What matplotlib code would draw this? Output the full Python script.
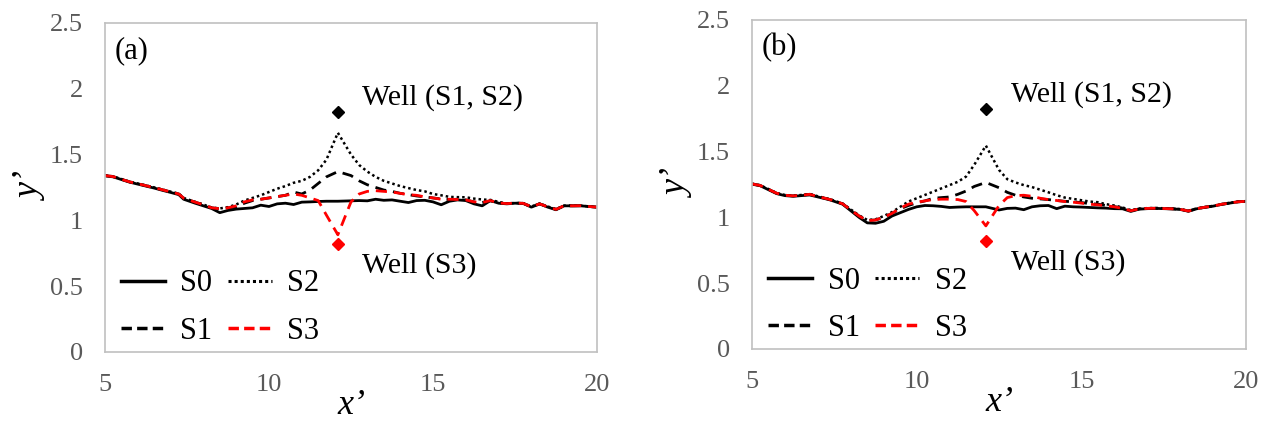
import matplotlib
matplotlib.use("Agg")
import matplotlib.pyplot as plt
from matplotlib.lines import Line2D

plt.rcParams["font.family"] = ["Liberation Serif", "DejaVu Serif"]

# shared sampling positions along x'
x_pts = [5.0, 5.25, 5.5, 5.75, 6.0, 6.25, 6.5, 6.75, 7.0, 7.25,
         7.4, 7.75, 8.0, 8.25, 8.5, 8.75, 9.0, 9.25, 9.5, 9.75,
         10.0, 10.25, 10.5, 10.75, 11.0, 11.25, 11.5, 11.75, 12.1, 12.5,
         12.75, 13.0, 13.25, 13.5, 13.75, 14.0, 14.25, 14.5, 14.75, 15.0,
         15.25, 15.5, 15.75, 16.0, 16.25, 16.5, 16.75, 17.0, 17.25, 17.5,
         17.75, 18.0, 18.25, 18.5, 18.75, 19.0, 19.25, 19.5, 19.75, 20.0]

# panel (a)
a_s0 = [1.338, 1.33, 1.31, 1.29, 1.275, 1.26, 1.245, 1.228, 1.212, 1.195,
        1.16, 1.13, 1.11, 1.09, 1.058, 1.075, 1.085, 1.09, 1.095, 1.115,
        1.105, 1.125, 1.13, 1.12, 1.138, 1.14, 1.143, 1.145, 1.145, 1.148,
        1.15, 1.148, 1.16, 1.152, 1.155, 1.145, 1.135, 1.15, 1.152, 1.14,
        1.118, 1.145, 1.155, 1.15, 1.125, 1.11, 1.15, 1.13, 1.125, 1.13,
        1.128, 1.10, 1.125, 1.10, 1.08, 1.11, 1.11, 1.11, 1.105, 1.10]
a_s1 = [1.34, 1.332, 1.312, 1.292, 1.278, 1.263, 1.248, 1.232, 1.216, 1.2,
        1.168, 1.138, 1.118, 1.095, 1.088, 1.095, 1.10, 1.13, 1.15, 1.16,
        1.17, 1.18, 1.19, 1.215, 1.20, 1.23, 1.28, 1.33, 1.37, 1.34,
        1.30, 1.27, 1.25, 1.23, 1.22, 1.205, 1.195, 1.185, 1.178, 1.17,
        1.162, 1.158, 1.16, 1.155, 1.14, 1.135, 1.148, 1.132, 1.127, 1.131,
        1.129, 1.103, 1.125, 1.102, 1.083, 1.111, 1.11, 1.111, 1.105, 1.10]
a_s2 = [1.342, 1.334, 1.314, 1.294, 1.28, 1.265, 1.25, 1.234, 1.218, 1.202,
        1.17, 1.14, 1.12, 1.097, 1.09, 1.10, 1.12, 1.15, 1.17, 1.19,
        1.215, 1.24, 1.26, 1.285, 1.30, 1.33, 1.38, 1.46, 1.665, 1.50,
        1.42, 1.37, 1.33, 1.30, 1.28, 1.26, 1.245, 1.23, 1.22, 1.20,
        1.19, 1.178, 1.176, 1.175, 1.165, 1.158, 1.155, 1.14, 1.128, 1.132,
        1.13, 1.105, 1.127, 1.105, 1.085, 1.112, 1.11, 1.112, 1.105, 1.10]
a_s3 = [1.34, 1.332, 1.312, 1.292, 1.278, 1.263, 1.248, 1.232, 1.216, 1.2,
        1.168, 1.138, 1.118, 1.095, 1.088, 1.095, 1.11, 1.14, 1.155, 1.16,
        1.17, 1.18, 1.19, 1.20, 1.19, 1.17, 1.15, 1.04, 0.89, 1.14,
        1.20, 1.22, 1.225, 1.22, 1.215, 1.205, 1.195, 1.19, 1.178, 1.17,
        1.16, 1.16, 1.158, 1.155, 1.14, 1.135, 1.15, 1.132, 1.127, 1.131,
        1.129, 1.103, 1.125, 1.102, 1.083, 1.111, 1.11, 1.111, 1.105, 1.10]

# panel (b)
b_s0 = [1.252, 1.24, 1.21, 1.18, 1.165, 1.16, 1.165, 1.17, 1.155, 1.14,
        1.13, 1.10, 1.05, 1.00, 0.958, 0.955, 0.97, 1.01, 1.035, 1.06,
        1.08, 1.09, 1.088, 1.083, 1.075, 1.078, 1.08, 1.08, 1.08, 1.056,
        1.068, 1.07, 1.058, 1.08, 1.088, 1.09, 1.066, 1.085, 1.08, 1.078,
        1.075, 1.072, 1.07, 1.066, 1.065, 1.045, 1.062, 1.066, 1.068, 1.066,
        1.064, 1.06, 1.046, 1.065, 1.076, 1.085, 1.098, 1.108, 1.118, 1.122]
b_s1 = [1.254, 1.242, 1.213, 1.183, 1.168, 1.163, 1.168, 1.175, 1.158, 1.143,
        1.133, 1.103, 1.056, 1.01, 0.975, 0.98, 1.0, 1.03, 1.065, 1.09,
        1.11, 1.125, 1.145, 1.15, 1.155, 1.175, 1.20, 1.235, 1.265, 1.225,
        1.19, 1.168, 1.155, 1.145, 1.14, 1.135, 1.128, 1.122, 1.118, 1.112,
        1.105, 1.10, 1.09, 1.082, 1.07, 1.05, 1.064, 1.068, 1.069, 1.067,
        1.065, 1.061, 1.048, 1.066, 1.077, 1.086, 1.099, 1.109, 1.118, 1.122]
b_s2 = [1.256, 1.244, 1.215, 1.185, 1.17, 1.165, 1.17, 1.178, 1.16, 1.145,
        1.135, 1.105, 1.06, 1.015, 0.98, 0.985, 1.01, 1.04, 1.08, 1.12,
        1.145, 1.17, 1.195, 1.22, 1.245, 1.27, 1.31, 1.40, 1.545, 1.36,
        1.29, 1.265, 1.245, 1.23, 1.21, 1.19, 1.168, 1.15, 1.14, 1.13,
        1.12, 1.115, 1.10, 1.09, 1.075, 1.055, 1.066, 1.07, 1.071, 1.069,
        1.067, 1.063, 1.05, 1.068, 1.078, 1.087, 1.1, 1.11, 1.119, 1.123]
b_s3 = [1.254, 1.242, 1.213, 1.183, 1.168, 1.163, 1.168, 1.175, 1.158, 1.143,
        1.133, 1.103, 1.056, 1.01, 0.975, 0.98, 1.0, 1.03, 1.07, 1.10,
        1.115, 1.125, 1.135, 1.138, 1.138, 1.135, 1.12, 1.05, 0.935, 1.09,
        1.15, 1.165, 1.168, 1.16, 1.145, 1.135, 1.128, 1.12, 1.115, 1.108,
        1.10, 1.095, 1.088, 1.08, 1.068, 1.05, 1.064, 1.068, 1.069, 1.067,
        1.065, 1.061, 1.048, 1.066, 1.077, 1.086, 1.099, 1.109, 1.118, 1.122]

well_x = 12.1
well_y_prod = 1.82   # well for S1, S2
well_y_inj = 0.82    # well for S3

x_ticks = [5, 10, 15, 20]
y_ticks = [0, 0.5, 1, 1.5, 2, 2.5]
y_tick_labels = ["0", "0.5", "1", "1.5", "2", "2.5"]

grey = "#595959"
frame = "#c0c0c0"


def draw_panel(ax, s0, s1, s2, s3, tag):
    ax.plot(x_pts, s0, color="black", lw=2.0, ls="-")
    ax.plot(x_pts, s1, color="black", lw=2.0, ls=(0, (4, 2.5)))
    ax.plot(x_pts, s2, color="black", lw=1.8, ls=(0, (1, 1.2)))
    ax.plot(x_pts, s3, color="red", lw=2.0, ls=(0, (4, 2.5)))
    ax.plot([well_x], [well_y_prod], marker="D", color="black", ms=6.5, ls="none")
    ax.plot([well_x], [well_y_inj], marker="D", color="red", ms=6.5, ls="none")

    ax.set_xlim(5, 20)
    ax.set_ylim(0, 2.5)
    ax.set_xticks(x_ticks)
    ax.set_yticks(y_ticks)
    ax.set_yticklabels(y_tick_labels)
    ax.tick_params(length=0, labelsize=19, labelcolor=grey)
    ax.tick_params(axis="x", pad=16)
    ax.tick_params(axis="y", pad=16)
    for sp in ax.spines.values():
        sp.set_color(frame)
        sp.set_linewidth(1.2)

    ax.set_xlabel("x’", fontsize=26, style="italic", labelpad=-5)
    ax.set_ylabel("y’", fontsize=26, style="italic", labelpad=1)

    ax.text(0.02, 0.915, tag, transform=ax.transAxes, fontsize=22,
            ha="left", va="center")
    ax.text(well_x + 0.75, 1.93, "Well (S1, S2)", fontsize=21.5,
            ha="left", va="center")
    ax.text(well_x + 0.75, 0.66, "Well (S3)", fontsize=21.5,
            ha="left", va="center")

    handles = [
        Line2D([], [], color="black", lw=2.5, ls="-"),
        Line2D([], [], color="black", lw=2.5, ls=(0, (3, 1.5))),
        Line2D([], [], color="black", lw=2.2, ls=(0, (1, 1))),
        Line2D([], [], color="red", lw=2.5, ls=(0, (3, 1.5))),
    ]
    ax.legend(handles, ["S0", "S1", "S2", "S3"], ncol=2, loc="lower left",
              bbox_to_anchor=(0.02, 0.0), frameon=False, fontsize=22,
              handlelength=1.45, handletextpad=0.5, columnspacing=0.5,
              labelspacing=0.6, borderpad=0.2, borderaxespad=0)


fig = plt.figure(figsize=(12.63, 4.24), dpi=100)
ax_a = fig.add_axes([0.0831, 0.170, 0.3896, 0.776])
ax_b = fig.add_axes([0.5954, 0.177, 0.3912, 0.776])

draw_panel(ax_a, a_s0, a_s1, a_s2, a_s3, "(a)")
draw_panel(ax_b, b_s0, b_s1, b_s2, b_s3, "(b)")

fig.savefig("out.png", dpi=100)
